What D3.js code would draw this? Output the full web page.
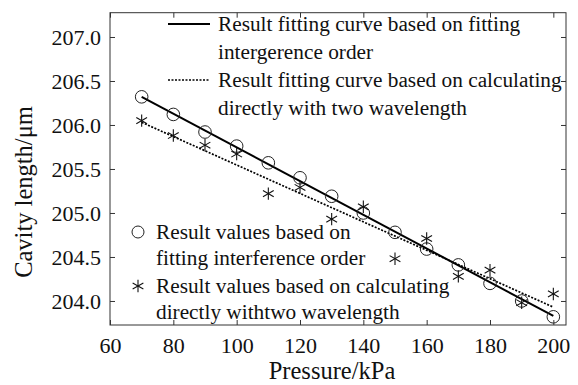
<!DOCTYPE html>
<html><head><meta charset="utf-8">
<script src="https://cdn.jsdelivr.net/npm/d3@7"></script>
<style>body{margin:0;background:#fff}svg{display:block;font-family:"Liberation Serif","Times New Roman",serif}text{font-family:"Liberation Serif","Times New Roman",serif;fill:#111}</style>
</head><body><svg id="c" width="578" height="385"></svg>
<script>
const pressure = [70,80,90,100,110,120,130,140,150,160,170,180,190,200];
const fitOrderValues = [206.32,206.12,205.92,205.76,205.57,205.40,205.19,205.00,204.78,204.59,204.41,204.20,204.00,203.82];
const twoWaveValues = [206.05,205.88,205.77,205.67,205.22,205.29,204.93,205.07,204.48,204.71,204.28,204.35,203.98,204.08];
const fitOrderLine = [[70,206.32],[200,203.83]];
const twoWaveLine = [[70,206.03],[200,203.93]];
const xTicks = [60,80,100,120,140,160,180,200];
const yTicks = [204.0,204.5,205.0,205.5,206.0,206.5,207.0];
const legendTop = [["Result fitting curve based on fitting","intergerence order"],["Result fitting curve based on calculating","directly with two wavelength"]];
const legendBottom = [["Result values based on","fitting interference order"],["Result values based on calculating","directly withtwo wavelength"]];

const svg = d3.select("#c");
const L=110,R=566,T=12.7,B=325;
const x = d3.scaleLinear().domain([60,204]).range([L,R]);
const y = d3.scaleLinear().domain([203.727,207.276]).range([B,T]);
const FF='"Liberation Serif","Times New Roman",serif';
const tickFs = 22, legFs = 21.3, titleFs = 24.5;

svg.append("rect").attr("x",L).attr("y",T).attr("width",R-L).attr("height",B-T).attr("fill","none").attr("stroke","#333").attr("stroke-width",1);
const tl=5;
const gx=svg.append("g").attr("transform",`translate(0,${B})`).call(d3.axisBottom(x).tickValues(xTicks).tickSizeInner(-tl).tickSizeOuter(0).tickPadding(12).tickFormat(d3.format("d")));
const gxt=svg.append("g").attr("transform",`translate(0,${T})`).call(d3.axisTop(x).tickValues(xTicks).tickSizeInner(-tl).tickSizeOuter(0).tickFormat(""));
const gy=svg.append("g").attr("transform",`translate(${L},0)`).call(d3.axisLeft(y).tickValues(yTicks).tickSizeInner(-tl).tickSizeOuter(0).tickPadding(9).tickFormat(d3.format(".1f")));
const gyr=svg.append("g").attr("transform",`translate(${R},0)`).call(d3.axisRight(y).tickValues(yTicks).tickSizeInner(-tl).tickSizeOuter(0).tickFormat(""));
[gx,gxt,gy,gyr].forEach(g=>{g.attr("font-family",FF).attr("font-size",tickFs);g.select(".domain").remove();g.selectAll("line").attr("stroke","#333");g.selectAll("text").style("font-family",FF).style("font-size",tickFs+"px").attr("fill","#111");});

const line=d3.line().x(d=>x(d[0])).y(d=>y(d[1]));
svg.append("path").attr("d",line(fitOrderLine)).attr("stroke","#000").attr("stroke-width",2).attr("fill","none");
svg.append("path").attr("d",line(twoWaveLine)).attr("stroke","#000").attr("stroke-width",1.7).attr("stroke-dasharray","2,1.5").attr("fill","none");

function star(g,cx,cy,r){
  for(let a=0;a<3;a++){const ang=Math.PI/2+a*Math.PI/3;
    g.append("line").attr("x1",cx+r*Math.cos(ang)).attr("y1",cy+r*Math.sin(ang)).attr("x2",cx-r*Math.cos(ang)).attr("y2",cy-r*Math.sin(ang)).attr("stroke","#111").attr("stroke-width",1.1);}
}
svg.append("g").selectAll("circle").data(pressure).join("circle").attr("cx",d=>x(d)).attr("cy",(d,i)=>y(fitOrderValues[i])).attr("r",6.3).attr("fill","none").attr("stroke","#222").attr("stroke-width",1);
const sg=svg.append("g");
pressure.forEach((p,i)=>star(sg,x(p),y(twoWaveValues[i]),6.2));

function txt(g,xx,yy,t,fs,anchor){return g.append("text").attr("x",xx).attr("y",yy).attr("dy","0.35em").attr("text-anchor",anchor||"start").style("font-family",FF).style("font-size",fs+"px").text(t);}
// top legend
const lg=svg.append("g");
[[24,"none"],[80,"2,1.5"]].forEach((s,i)=>{
  lg.append("line").attr("x1",168).attr("x2",210).attr("y1",s[0]).attr("y2",s[0]).attr("stroke","#000").attr("stroke-width",i?1.7:2).attr("stroke-dasharray",s[1]);
  legendTop[i].forEach((t,j)=>txt(lg,218,s[0]+j*28,t,legFs));
});
// bottom legend
[232,286].forEach((yy,i)=>{
  if(i===0) lg.append("circle").attr("cx",138).attr("cy",yy).attr("r",6).attr("fill","none").attr("stroke","#222");
  else star(lg,138,yy,6.2);
  legendBottom[i].forEach((t,j)=>txt(lg,156,yy+j*26,t,legFs));
});

txt(svg,332,370.5,"Pressure/kPa",titleFs,"middle");
svg.append("text").attr("transform",`translate(23,192) rotate(-90)`).attr("text-anchor","middle").attr("dy","0.35em").style("font-family",FF).style("font-size",titleFs+"px").text("Cavity length/μm");
</script></body></html>
